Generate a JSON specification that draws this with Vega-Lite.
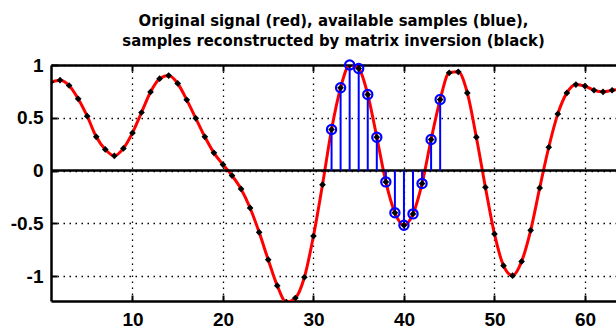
{
  "$schema": "https://vega.github.io/schema/vega-lite/v6.json",
  "width": 565,
  "height": 236,
  "autosize": {"type": "none"},
  "padding": {"left": 51, "top": 65, "right": 0, "bottom": 30},
  "background": "white",
  "config": {"view": {"stroke": null}},
  "title": {
    "text": ["Original signal (red), available samples (blue),", "samples reconstructed by matrix inversion (black)"],
    "font": "DejaVu Sans Condensed",
    "fontSize": 16.5,
    "fontWeight": "bold",
    "color": "black",
    "anchor": "middle",
    "offset": 6,
    "lineHeight": 20
  },
  "data": {
    "values": [
      {"n": 1, "y": 0.84, "avail": false},
      {"n": 2, "y": 0.856, "avail": false},
      {"n": 3, "y": 0.806, "avail": false},
      {"n": 4, "y": 0.68, "avail": false},
      {"n": 5, "y": 0.515, "avail": false},
      {"n": 6, "y": 0.32, "avail": false},
      {"n": 7, "y": 0.2, "avail": false},
      {"n": 8, "y": 0.14, "avail": false},
      {"n": 9, "y": 0.21, "avail": false},
      {"n": 10, "y": 0.357, "avail": false},
      {"n": 11, "y": 0.55, "avail": false},
      {"n": 12, "y": 0.745, "avail": false},
      {"n": 13, "y": 0.87, "avail": false},
      {"n": 14, "y": 0.9, "avail": false},
      {"n": 15, "y": 0.825, "avail": false},
      {"n": 16, "y": 0.67, "avail": false},
      {"n": 17, "y": 0.495, "avail": false},
      {"n": 18, "y": 0.32, "avail": false},
      {"n": 19, "y": 0.168, "avail": false},
      {"n": 20, "y": 0.057, "avail": false},
      {"n": 21, "y": -0.047, "avail": false},
      {"n": 22, "y": -0.174, "avail": false},
      {"n": 23, "y": -0.354, "avail": false},
      {"n": 24, "y": -0.585, "avail": false},
      {"n": 25, "y": -0.844, "avail": false},
      {"n": 26, "y": -1.09, "avail": false},
      {"n": 27, "y": -1.245, "avail": false},
      {"n": 28, "y": -1.207, "avail": false},
      {"n": 29, "y": -1.01, "avail": false},
      {"n": 30, "y": -0.62, "avail": false},
      {"n": 31, "y": -0.133, "avail": false},
      {"n": 32, "y": 0.389, "avail": true},
      {"n": 33, "y": 0.784, "avail": true},
      {"n": 34, "y": 1.0, "avail": true},
      {"n": 35, "y": 0.967, "avail": true},
      {"n": 36, "y": 0.72, "avail": true},
      {"n": 37, "y": 0.316, "avail": true},
      {"n": 38, "y": -0.107, "avail": true},
      {"n": 39, "y": -0.4, "avail": true},
      {"n": 40, "y": -0.518, "avail": true},
      {"n": 41, "y": -0.41, "avail": true},
      {"n": 42, "y": -0.123, "avail": true},
      {"n": 43, "y": 0.294, "avail": true},
      {"n": 44, "y": 0.673, "avail": true},
      {"n": 45, "y": 0.926, "avail": false},
      {"n": 46, "y": 0.935, "avail": false},
      {"n": 47, "y": 0.736, "avail": false},
      {"n": 48, "y": 0.316, "avail": false},
      {"n": 49, "y": -0.158, "avail": false},
      {"n": 50, "y": -0.6, "avail": false},
      {"n": 51, "y": -0.9, "avail": false},
      {"n": 52, "y": -0.995, "avail": false},
      {"n": 53, "y": -0.86, "avail": false},
      {"n": 54, "y": -0.566, "avail": false},
      {"n": 55, "y": -0.164, "avail": false},
      {"n": 56, "y": 0.221, "avail": false},
      {"n": 57, "y": 0.537, "avail": false},
      {"n": 58, "y": 0.736, "avail": false},
      {"n": 59, "y": 0.815, "avail": false},
      {"n": 60, "y": 0.8, "avail": false},
      {"n": 61, "y": 0.761, "avail": false},
      {"n": 62, "y": 0.746, "avail": false},
      {"n": 63, "y": 0.761, "avail": false},
      {"n": 64, "y": 0.77, "avail": false}
    ]
  },
  "layer": [
    {
      "mark": {"type": "line", "color": "#ff0000", "strokeWidth": 3, "interpolate": "monotone", "clip": true},
      "encoding": {
        "x": {
          "field": "n", "type": "quantitative",
          "scale": {"domain": [1, 63.43], "nice": false, "zero": false},
          "axis": {
            "orient": "bottom", "title": null,
            "values": [10, 20, 30, 40, 50, 60],
            "labelExpr": "'' + datum.value",
            "grid": true, "gridDash": [1.5, 4.5], "gridColor": "black", "gridWidth": 1.3,
            "domainColor": "black", "domainWidth": 2.5,
            "tickColor": "black", "tickWidth": 2, "tickSize": -6,
            "labelPadding": 15, "labelFont": "Liberation Sans", "labelFontSize": 19, "labelFontWeight": "bold",
            "labelColor": "black", "labelFlush": false
          }
        },
        "y": {
          "field": "y", "type": "quantitative",
          "scale": {"domain": [-1.235, 1], "nice": false, "zero": false},
          "axis": {
            "title": null,
            "values": [-1, -0.5, 0, 0.5, 1],
            "labelExpr": "'' + datum.value",
            "grid": true, "gridDash": [1.5, 4.5], "gridColor": "black", "gridWidth": 1.3,
            "domainColor": "black", "domainWidth": 2.5,
            "tickColor": "black", "tickWidth": 2, "tickSize": -6,
            "labelPadding": 14, "labelFont": "Liberation Sans", "labelFontSize": 19, "labelFontWeight": "bold",
            "labelColor": "black", "labelFlush": false
          }
        }
      }
    },
    {
      "data": {"values": [{"z": 0}]},
      "mark": {"type": "rule", "color": "black", "strokeWidth": 2.5},
      "encoding": {"y": {"field": "z", "type": "quantitative"}}
    },
    {
      "transform": [{"filter": "datum.avail"}],
      "mark": {"type": "rule", "color": "#0000ff", "strokeWidth": 2},
      "encoding": {
        "x": {"field": "n", "type": "quantitative", "axis": null},
        "y": {"field": "y", "type": "quantitative"},
        "y2": {"datum": 0}
      }
    },
    {
      "transform": [{"filter": "datum.avail"}],
      "mark": {"type": "point", "shape": "circle", "filled": false, "color": "#0000ff", "strokeWidth": 2.2, "size": 85, "opacity": 1},
      "encoding": {
        "x": {"field": "n", "type": "quantitative", "axis": null},
        "y": {"field": "y", "type": "quantitative"}
      }
    },
    {
      "mark": {"type": "point", "shape": "diamond", "filled": true, "color": "black", "size": 45, "opacity": 1, "clip": true},
      "encoding": {
        "x": {"field": "n", "type": "quantitative", "axis": null},
        "y": {"field": "y", "type": "quantitative"}
      }
    },
    {
      "data": {"values": [{"z": 30}]},
      "mark": {"type": "rule", "opacity": 0},
      "encoding": {
        "x": {
          "field": "z", "type": "quantitative",
          "axis": {
            "orient": "top", "title": null, "labels": false, "grid": false,
            "values": [10, 20, 30, 40, 50, 60],
            "domainColor": "black", "domainWidth": 2.5,
            "tickColor": "black", "tickWidth": 2, "tickSize": -6
          }
        }
      }
    }
  ],
  "resolve": {"axis": {"x": "independent"}}
}
